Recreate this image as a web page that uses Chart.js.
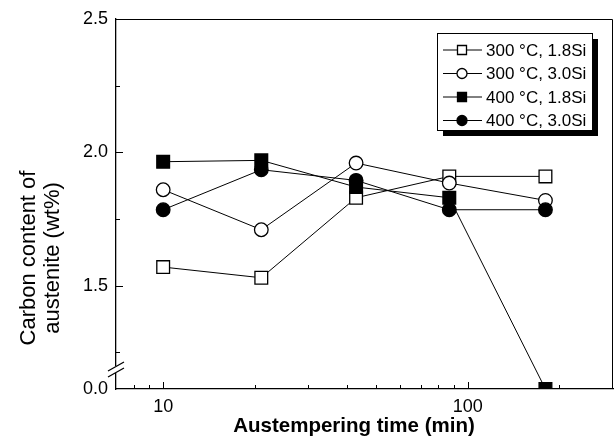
<!DOCTYPE html>
<html>
<head>
<meta charset="utf-8">
<script src="https://cdn.jsdelivr.net/npm/chart.js@4/dist/chart.umd.min.js"></script>
<style>
  html,body{margin:0;padding:0;background:#fff;}
  #wrap{width:614px;height:438px;}
</style>
</head>
<body>
<div id="wrap"><canvas id="c" width="614" height="438"></canvas></div>
<script>
// ---------- data ----------
const times    = [10, 21, 43, 87, 180];            // austempering time (min)
const c300_18  = [1.57, 1.53, 1.83, 1.91, 1.91];
const c300_30  = [1.86, 1.71, 1.96, 1.885, 1.82];
const c400_18  = [1.965, 1.97, 1.87, 1.83, 0.0];
const c400_30  = [1.785, 1.935, 1.895, 1.785, 1.785];
const names    = ['300 °C, 1.8Si', '300 °C, 3.0Si', '400 °C, 1.8Si', '400 °C, 3.0Si'];
const xTicks   = [10, 100];
const xMinor   = [8, 9, 20, 30, 40, 50, 60, 70, 80, 90, 200];
const yTicks   = [0.0, 1.5, 2.0, 2.5];
const yMinor   = [1.25, 1.75, 2.25];

// broken y axis: 0.0 sits just under the 1.11 mark
const ZERO_AT = 1.113;
const ya = v => v < 1 ? ZERO_AT + v : v;

const FONT = '"Liberation Sans", Arial, sans-serif';

const styles = [
  {shape:'rect',   fill:'#fff', r:9,   order:4},
  {shape:'circle', fill:'#fff', r:6.8, order:3},
  {shape:'rect',   fill:'#000', r:9,   order:2},
  {shape:'circle', fill:'#000', r:6.8, order:1},
];

const ds = [c300_18, c300_30, c400_18, c400_30].map((vals, i)=>({
  label: names[i],
  data: times.map((t, j)=> ({x:t, y:ya(vals[j])})),
  borderColor:'#000', borderWidth:1, tension:0,
  pointStyle: styles[i].shape, pointRadius: styles[i].r, pointHoverRadius: styles[i].r,
  pointBackgroundColor: styles[i].fill, pointBorderColor:'#000', pointBorderWidth:1.3,
  order: styles[i].order
}));

// ---------- helpers ----------
function marker(ctx, st, x, y, size) {
  ctx.beginPath();
  if (st.shape==='rect') ctx.rect(x-size, y-size, size*2, size*2);
  else ctx.arc(x, y, size, 0, Math.PI*2);
  ctx.fillStyle = st.fill; ctx.fill();
  ctx.lineWidth = 1.3; ctx.strokeStyle='#000'; ctx.stroke();
}

const frame = {
  id:'frame',
  afterDraw(chart) {
    const {ctx, chartArea:a, scales:{x, y}} = chart;
    ctx.save();
    ctx.strokeStyle='#000'; ctx.lineWidth=1;

    // top + right border
    ctx.beginPath();
    ctx.moveTo(a.left, a.top+0.5); ctx.lineTo(a.right-0.5, a.top+0.5); ctx.lineTo(a.right-0.5, a.bottom);
    ctx.stroke();

    // inward ticks
    ctx.beginPath();
    xTicks.forEach(v=>{ const p=Math.round(x.getPixelForValue(v))+0.5; ctx.moveTo(p,a.bottom); ctx.lineTo(p,a.bottom-7); });
    xMinor.forEach(v=>{ const p=Math.round(x.getPixelForValue(v))+0.5; ctx.moveTo(p,a.bottom); ctx.lineTo(p,a.bottom-4); });
    yTicks.filter(v=>v>0).forEach(v=>{ const p=Math.round(y.getPixelForValue(ya(v)))+0.5; ctx.moveTo(a.left,p); ctx.lineTo(a.left+7,p); });
    yMinor.forEach(v=>{ const p=Math.round(y.getPixelForValue(v))+0.5; ctx.moveTo(a.left,p); ctx.lineTo(a.left+4,p); });
    ctx.stroke();

    // axis break
    const yb = a.bottom - 19;
    ctx.fillStyle='#fff';
    ctx.fillRect(a.left-2, yb-4, 5, 7);
    ctx.beginPath();
    ctx.moveTo(a.left-8, yb+1); ctx.lineTo(a.left+8, yb-8);
    ctx.moveTo(a.left-8, yb+7); ctx.lineTo(a.left+8, yb-2);
    ctx.lineWidth=1.3; ctx.stroke();

    // legend with drop shadow
    const lx=437, ly=33, lw=155, lh=97;
    ctx.fillStyle='#000'; ctx.fillRect(lx+6, ly+6, lw, lh);
    ctx.fillStyle='#fff'; ctx.fillRect(lx, ly, lw, lh);
    ctx.lineWidth=1; ctx.strokeRect(lx+0.5, ly+0.5, lw, lh);
    names.forEach((n, i)=>{
      const ry = ly + 17 + i*23.5;
      ctx.beginPath(); ctx.moveTo(lx+6, ry); ctx.lineTo(lx+45, ry); ctx.lineWidth=1; ctx.stroke();
      marker(ctx, styles[i], lx+25, ry, styles[i].shape==='rect' ? 4.5 : 5);
      ctx.fillStyle='#000'; ctx.font='17px '+FONT;
      ctx.textAlign='left'; ctx.textBaseline='middle';
      ctx.fillText(n, lx+49, ry+1);
    });

    // axis titles
    ctx.fillStyle='#000';
    ctx.font='bold 20.5px '+FONT; ctx.textAlign='center'; ctx.textBaseline='middle';
    ctx.fillText('Austempering time (min)', 354, 426);
    ctx.font='22px '+FONT;
    ctx.save(); ctx.translate(29, 258); ctx.rotate(-Math.PI/2); ctx.fillText('Carbon content of', 0, 0); ctx.restore();
    ctx.save(); ctx.translate(53, 258); ctx.rotate(-Math.PI/2); ctx.fillText('austenite (wt%)', 0, 0); ctx.restore();
    ctx.restore();
  }
};

new Chart(document.getElementById('c'), {
  type:'line',
  data:{ datasets: ds },
  options:{
    responsive:false, animation:false, devicePixelRatio:1,
    layout:{ autoPadding:false, padding:{ top:19, right:1, left:0, bottom:0 } },
    plugins:{ legend:{display:false}, tooltip:{enabled:false} },
    scales:{
      x:{
        type:'logarithmic', min:7, max:300,
        afterFit: s=>{ s.height = 49; s.paddingLeft = 0; s.paddingRight = 0; },
        afterBuildTicks: s=>{ s.ticks = xTicks.map(v=>({value:v})); },
        ticks:{ color:'#000', font:{family:FONT, size:18}, padding:7, maxRotation:0, callback:v=>String(v) },
        grid:{ display:false, drawTicks:false },
        border:{ display:true, color:'#000', width:1.3 }
      },
      y:{
        type:'linear', min:ZERO_AT, max:2.5,
        afterFit: s=>{ s.width = 116; s.paddingTop = 0; s.paddingBottom = 0; },
        afterBuildTicks: s=>{ s.ticks = yTicks.map(v=>({value:ya(v)})); },
        ticks:{ color:'#000', font:{family:FONT, size:18}, padding:8,
                callback:v=> (v<1.2 ? 0 : v).toFixed(1) },
        grid:{ display:false, drawTicks:false },
        border:{ display:true, color:'#000', width:1.3 }
      }
    }
  },
  plugins:[frame]
});
</script>
</body>
</html>
